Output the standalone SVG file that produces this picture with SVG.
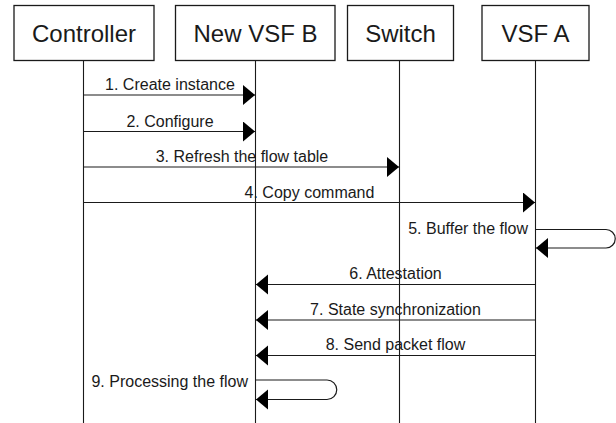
<svg xmlns="http://www.w3.org/2000/svg" width="616" height="423" viewBox="0 0 616 423">
  <defs>
    <style>
      .box { fill: #ffffff; stroke: #1a1a1a; stroke-width: 1.3; }
      .title { font-family: "Liberation Sans", Arial, sans-serif; font-size: 24px; fill: #1a1a1a; text-anchor: middle; }
      .life { stroke: #1a1a1a; stroke-width: 1.1; fill: none; }
      .msg { stroke: #1a1a1a; stroke-width: 1.2; fill: none; }
      .lbl { font-family: "Liberation Sans", Arial, sans-serif; font-size: 16px; fill: #1a1a1a; text-anchor: middle; }
      .lbl-end { text-anchor: end; }
      .head { fill: #000000; }
    </style>
    <marker id="arrow" markerUnits="userSpaceOnUse" markerWidth="14" markerHeight="22" refX="12" refY="10" orient="auto">
      <path class="head" d="M0,0 L12,10 L0,20 Z"/>
    </marker>
  </defs>
  <rect width="616" height="423" fill="#ffffff"/>

  <!-- participants with lifelines -->
  <g id="controller">
    <line class="life" x1="83.5" y1="60.5" x2="83.5" y2="423"/>
    <rect class="box" x="14" y="5.5" width="140" height="55"/>
    <text class="title" x="84" y="41.5">Controller</text>
  </g>
  <g id="new-vsf-b">
    <line class="life" x1="255.5" y1="60.5" x2="255.5" y2="423"/>
    <rect class="box" x="175.5" y="5.5" width="159.5" height="55"/>
    <text class="title" x="255.5" y="41.5">New VSF B</text>
  </g>
  <g id="switch">
    <line class="life" x1="399.5" y1="60.5" x2="399.5" y2="423"/>
    <rect class="box" x="347.5" y="5.5" width="106" height="55"/>
    <text class="title" x="400.5" y="41.5">Switch</text>
  </g>
  <g id="vsf-a">
    <line class="life" x1="535.5" y1="60.5" x2="535.5" y2="423"/>
    <rect class="box" x="482" y="5.5" width="107" height="55"/>
    <text class="title" x="535.5" y="41.5">VSF A</text>
  </g>

  <!-- messages -->
  <g id="connectors">
    <line class="msg" x1="83.5" y1="95" x2="255" y2="95" marker-end="url(#arrow)"/>
    <text class="lbl" x="170" y="90">1. Create instance</text>

    <line class="msg" x1="83.5" y1="131.5" x2="255" y2="131.5" marker-end="url(#arrow)"/>
    <text class="lbl" x="170" y="126.5">2. Configure</text>

    <line class="msg" x1="83.5" y1="167" x2="399" y2="167" marker-end="url(#arrow)"/>
    <text class="lbl" x="242" y="162">3. Refresh the flow table</text>

    <line class="msg" x1="83.5" y1="202.5" x2="535" y2="202.5" marker-end="url(#arrow)"/>
    <text class="lbl" x="309.5" y="197.5">4. Copy command</text>

    <path class="msg" d="M535.5,229.5 H606 A9.25,9.25 0 0 1 606,248 H536" marker-end="url(#arrow)"/>
    <text class="lbl lbl-end" x="528" y="234">5. Buffer the flow</text>

    <line class="msg" x1="535.5" y1="284.5" x2="256" y2="284.5" marker-end="url(#arrow)"/>
    <text class="lbl" x="395.5" y="279">6. Attestation</text>

    <line class="msg" x1="535.5" y1="320" x2="256" y2="320" marker-end="url(#arrow)"/>
    <text class="lbl" x="395.5" y="314.5">7. State synchronization</text>

    <line class="msg" x1="535.5" y1="355.5" x2="256" y2="355.5" marker-end="url(#arrow)"/>
    <text class="lbl" x="395.5" y="350">8. Send packet flow</text>

    <path class="msg" d="M255.5,380 H327 A9.75,9.75 0 0 1 327,399.5 H256" marker-end="url(#arrow)"/>
    <text class="lbl lbl-end" x="248" y="387">9. Processing the flow</text>
  </g>
</svg>
